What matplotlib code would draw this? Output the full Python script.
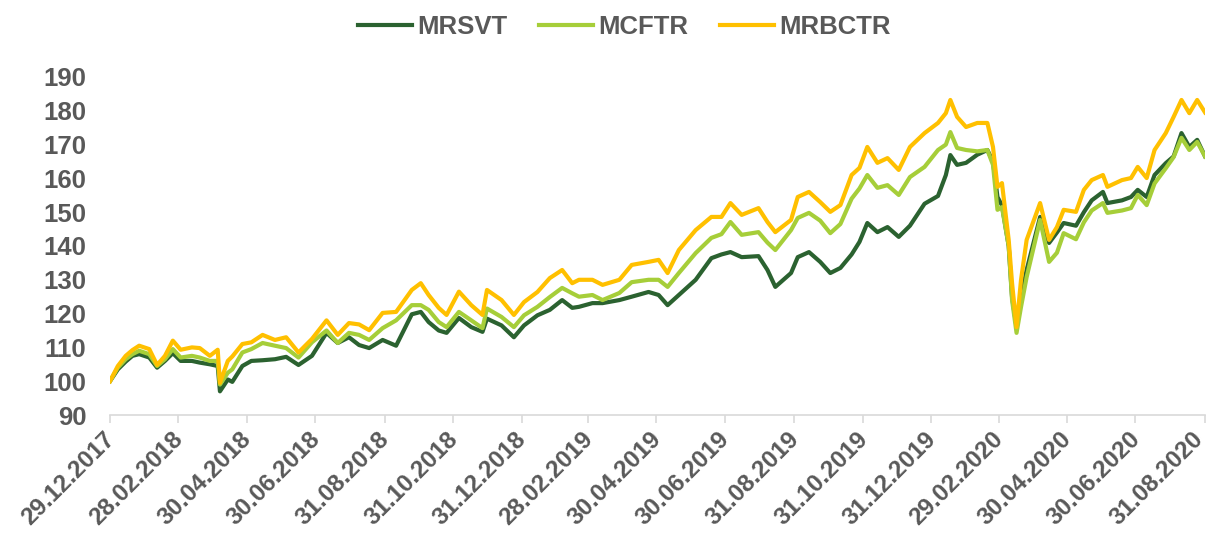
import numpy as np
import pandas as pd
import matplotlib
matplotlib.use("Agg")
import matplotlib.pyplot as plt
import matplotlib.dates as mdates

plt.rcParams['font.family'] = ['Liberation Sans', 'DejaVu Sans']

# datas
datas = ["2017-12-29", "2018-01-05", "2018-01-12", "2018-01-18", "2018-01-24", "2018-02-02",
         "2018-02-09", "2018-02-16", "2018-02-23", "2018-03-02", "2018-03-12", "2018-03-19",
         "2018-03-28", "2018-04-04", "2018-04-06", "2018-04-13", "2018-04-17", "2018-04-26",
         "2018-05-04", "2018-05-14", "2018-05-25", "2018-06-04", "2018-06-15", "2018-06-27",
         "2018-07-10", "2018-07-20", "2018-07-30", "2018-08-08", "2018-08-17", "2018-08-29",
         "2018-09-10", "2018-09-24", "2018-10-02", "2018-10-09", "2018-10-18", "2018-10-25",
         "2018-11-05", "2018-11-16", "2018-11-26", "2018-11-30", "2018-12-13", "2018-12-24",
         "2019-01-02", "2019-01-14", "2019-01-25", "2019-02-05", "2019-02-14", "2019-02-20",
         "2019-03-04", "2019-03-13", "2019-03-28", "2019-04-08", "2019-04-23", "2019-05-02",
         "2019-05-10", "2019-05-20", "2019-06-04", "2019-06-18", "2019-06-27", "2019-07-05",
         "2019-07-15", "2019-07-30", "2019-08-07", "2019-08-14", "2019-08-28", "2019-09-03",
         "2019-09-13", "2019-09-23", "2019-10-02", "2019-10-11", "2019-10-21", "2019-10-28",
         "2019-11-04", "2019-11-13", "2019-11-22", "2019-12-02", "2019-12-12", "2019-12-25",
         "2020-01-06", "2020-01-13", "2020-01-17", "2020-01-23", "2020-01-31", "2020-02-10",
         "2020-02-19", "2020-02-24", "2020-02-28", "2020-03-03", "2020-03-09", "2020-03-12",
         "2020-03-16", "2020-03-20", "2020-03-25", "2020-04-06", "2020-04-14", "2020-04-21",
         "2020-04-27", "2020-05-08", "2020-05-15", "2020-05-22", "2020-06-01", "2020-06-05",
         "2020-06-18", "2020-06-26", "2020-07-02", "2020-07-10", "2020-07-17", "2020-07-27",
         "2020-08-03", "2020-08-10", "2020-08-17", "2020-08-24", "2020-08-31"]

mrsvt = [100, 103.5, 105.8, 107.5, 108, 107, 104, 106, 108.3, 106, 106, 105.5,
         105, 104.5, 97, 100.5, 99.8, 104.5, 106, 106.2, 106.5, 107.2, 104.8, 107.5,
         114.3, 111.3, 113, 110.7, 109.8, 112.2, 110.5, 119.8, 120.5, 117.5, 115, 114.3,
         118.7, 116, 114.6, 118.5, 116.5, 113, 116.5, 119.5, 121.1, 124, 121.7, 122,
         123.1, 123.1, 124, 125, 126.4, 125.5, 122.5, 125.5, 130, 136.4, 137.5, 138.2,
         136.7, 137, 132.9, 127.9, 132, 136.7, 138.2, 135.3, 132, 133.5, 137.5, 141.2,
         146.8, 144.1, 145.6, 142.7, 146, 152.5, 154.8, 161, 166.9, 164, 164.6, 167,
         168.4, 165, 154.5, 152, 140, 124.9, 116, 124.9, 132.9, 148.6, 140.9, 144,
         146.8, 146, 150, 153.5, 156, 152.7, 153.5, 154.5, 156.6, 154.5, 161, 164.5,
         166.5, 173.4, 169.3, 171.4, 166.5]

mcftr = [100, 104, 106.5, 108, 109, 108, 104.5, 106.5, 109.5, 107, 107.5, 107,
         106, 106, 99, 102.5, 103.5, 108.5, 109.5, 111.3, 110.5, 109.8, 107, 111.5,
         115, 111.3, 114.3, 113.7, 112.2, 115.7, 118, 122.5, 122.5, 121.1, 117.5, 116,
         120.5, 118, 115.7, 121.5, 119, 116, 119.5, 122, 124.9, 127.6, 126, 125,
         125.5, 124, 126.1, 129.3, 130, 130, 127.9, 132, 137.9, 142.4, 143.5, 147.1,
         143.3, 144.1, 141, 138.8, 144.7, 148.3, 149.8, 147.5, 143.8, 146.5, 154, 157,
         161, 157.2, 158, 155.1, 160.4, 163.4, 168.4, 170, 173.7, 169, 168.4, 168,
         168.4, 164, 150.7, 151.5, 140, 124, 114.3, 122, 130.8, 147.7, 135.3, 138,
         143.8, 142, 147, 150.5, 152.7, 149.8, 150.5, 151.2, 155.1, 152.1, 158.5, 163,
         166.3, 172, 168.4, 170.8, 166.5]

mrbctr = [100, 104.5, 107.5, 109.2, 110.5, 109.5, 104.8, 107.5, 112, 109.3, 110, 109.8,
          107.5, 109.3, 99.5, 106, 107.3, 111, 111.5, 113.7, 112.2, 113, 108.5, 112.5,
          118, 113.7, 117.2, 116.8, 115.1, 120.2, 120.5, 127, 129, 125.5, 121.7, 119.6,
          126.5, 122.5, 119.6, 127, 124, 119.6, 123.4, 126.4, 130.5, 132.9, 129, 130,
          130, 128.5, 130, 134.4, 135.3, 135.9, 132, 138.8, 144.7, 148.6, 148.6, 152.7,
          149.2, 151.2, 147.1, 144.1, 147.7, 154.5, 156, 153, 150.1, 152.1, 161, 163.1,
          169.3, 164.6, 166, 162.5, 169.3, 173.4, 176.4, 179.3, 183.2, 178.2, 175.2, 176.4,
          176.4, 169.3, 157.5, 158.6, 141.8, 129, 116, 130, 141.8, 152.7, 141.8, 145.6,
          150.7, 150.1, 156.6, 159.5, 161, 157.5, 159.5, 160.1, 163.4, 160.1, 168.4, 173.4,
          178.2, 183.2, 179.3, 183.2, 179.5]

ticks = ["2017-12-29", "2018-02-28", "2018-04-30", "2018-06-30", "2018-08-31", "2018-10-31",
         "2018-12-31", "2019-02-28", "2019-04-30", "2019-06-30", "2019-08-31", "2019-10-31",
         "2019-12-31", "2020-02-29", "2020-04-30", "2020-06-30", "2020-08-31"]

series = [("MRSVT", mrsvt, "#2B6230"),
          ("MCFTR", mcftr, "#A6CE39"),
          ("MRBCTR", mrbctr, "#FFC000")]

cinza = "#595959"
x = pd.to_datetime(datas)

fig = plt.figure(figsize=(12.1, 5.41), dpi=100)
ax = fig.add_axes([0.0909, 0.2329, 0.905, 0.6248])

for nome, vals, cor in series:
    ax.plot(x, vals, color=cor, lw=3.0, label=nome, solid_joinstyle='round')

ax.set_ylim(90, 190)
ax.set_yticks(np.arange(90, 191, 10))
tk = pd.to_datetime(ticks)
ax.set_xlim(tk[0], tk[-1])
ax.set_xticks(tk)
ax.set_xticklabels([])

# rotulos do eixo x escritos na mao pra poder ajustar a posicao
for i, t in enumerate(tk):
    dx = -10 if i == len(tk) - 1 else -5  # o ultimo encosta na borda
    ax.annotate(t.strftime("%d.%m.%Y"), xy=(mdates.date2num(t), 0),
                xycoords=ax.get_xaxis_transform(),
                xytext=(dx, -9), textcoords='offset points', rotation=45,
                rotation_mode='anchor', ha='right', va='top', fontsize=17.5,
                fontweight='bold', color=cinza, annotation_clip=False)

for lbl in ax.get_yticklabels():
    lbl.set_fontsize(18.5)
    lbl.set_fontweight('bold')
    lbl.set_color(cinza)

for s in ['top', 'right', 'left']:
    ax.spines[s].set_visible(False)
ax.spines['bottom'].set_color('#D9D9D9')
ax.spines['bottom'].set_linewidth(1.2)
ax.tick_params(axis='y', length=0, pad=17)
ax.tick_params(axis='x', length=6, color='#D9D9D9', width=1.2)

leg = fig.legend(loc='center', bbox_to_anchor=(0.516, 1 - 26.5 / 541), ncol=3, frameon=False,
                 handlelength=2.1, columnspacing=1.25, handletextpad=0.2,
                 prop={'size': 18.5, 'weight': 'bold'})
for t in leg.get_texts():
    t.set_color(cinza)
for l in leg.get_lines():
    l.set_linewidth(3.0)

fig.savefig("out.png", dpi=100)
